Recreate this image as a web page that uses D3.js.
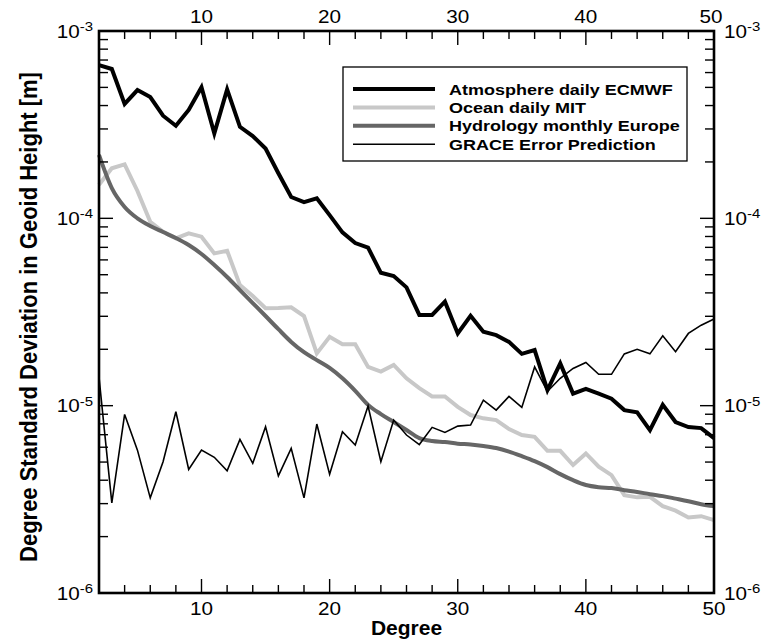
<!DOCTYPE html>
<meta charset="utf-8">
<html lang="en">
<head>
<script src="https://d3js.org/d3.v7.min.js"></script>
<style>
  body { margin: 0; background: #fff; }
  text { font-family: "Liberation Sans", Arial, Helvetica, sans-serif; fill: #000; }
</style>
</head>
<body>
<svg></svg>
<script>
// degree axis (spherical harmonic degree)
var degrees = [2,3,4,5,6,7,8,9,10,11,12,13,14,15,16,17,18,19,20,21,22,23,24,25,26,
  27,28,29,30,31,32,33,34,35,36,37,38,39,40,41,42,43,44,45,46,47,48,49,50];

// degree std dev in geoid height [m]
var atmosphere = [6.58e-4,6.27e-4,4.08e-4,4.84e-4,4.44e-4,3.53e-4,3.12e-4,3.79e-4,5.01e-4,2.84e-4,
  4.88e-4,3.08e-4,2.75e-4,2.36e-4,1.74e-4,1.30e-4,1.22e-4,1.28e-4,1.04e-4,8.42e-5,
  7.38e-5,6.97e-5,5.12e-5,4.92e-5,4.28e-5,3.05e-5,3.05e-5,3.59e-5,2.43e-5,3.02e-5,
  2.48e-5,2.38e-5,2.19e-5,1.89e-5,1.98e-5,1.21e-5,1.68e-5,1.16e-5,1.23e-5,1.16e-5,
  1.09e-5,9.47e-6,9.21e-6,7.41e-6,1.01e-5,8.18e-6,7.69e-6,7.59e-6,6.71e-6];
var ocean = [1.51e-4,1.85e-4,1.94e-4,1.40e-4,9.59e-5,8.48e-5,7.82e-5,8.32e-5,7.98e-5,6.50e-5,
  6.71e-5,4.40e-5,3.85e-5,3.31e-5,3.32e-5,3.35e-5,3.01e-5,1.90e-5,2.33e-5,2.13e-5,
  2.13e-5,1.61e-5,1.52e-5,1.65e-5,1.40e-5,1.24e-5,1.12e-5,1.12e-5,9.86e-6,8.91e-6,
  8.56e-6,8.38e-6,7.50e-6,6.97e-6,6.82e-6,5.74e-6,5.74e-6,4.82e-6,5.56e-6,4.72e-6,
  4.26e-6,3.33e-6,3.24e-6,3.26e-6,2.91e-6,2.75e-6,2.53e-6,2.57e-6,2.45e-6];
var hydrology = [2.18e-4,1.45e-4,1.15e-4,1.00e-4,9.10e-5,8.45e-5,7.85e-5,7.20e-5,6.45e-5,5.63e-5,
  4.86e-5,4.14e-5,3.53e-5,3.01e-5,2.56e-5,2.19e-5,1.93e-5,1.75e-5,1.59e-5,1.40e-5,
  1.20e-5,1.01e-5,9.02e-6,8.18e-6,7.41e-6,6.71e-6,6.47e-6,6.39e-6,6.27e-6,6.20e-6,
  6.09e-6,5.94e-6,5.69e-6,5.38e-6,5.06e-6,4.70e-6,4.31e-6,4.00e-6,3.77e-6,3.67e-6,
  3.63e-6,3.54e-6,3.46e-6,3.37e-6,3.29e-6,3.19e-6,3.09e-6,2.98e-6,2.91e-6];
var grace = [1.42e-5,3.03e-6,8.98e-6,5.79e-6,3.22e-6,5.02e-6,9.28e-6,4.57e-6,5.79e-6,5.30e-6,
  4.49e-6,6.61e-6,4.92e-6,7.72e-6,4.22e-6,5.92e-6,3.22e-6,7.98e-6,4.30e-6,7.26e-6,
  6.16e-6,9.95e-6,5.02e-6,8.38e-6,6.97e-6,6.20e-6,7.66e-6,7.20e-6,7.78e-6,7.88e-6,
  1.07e-5,9.47e-6,1.12e-5,9.79e-6,1.61e-5,1.19e-5,1.40e-5,1.58e-5,1.70e-5,1.47e-5,
  1.47e-5,1.89e-5,2.00e-5,1.89e-5,2.36e-5,1.94e-5,2.43e-5,2.69e-5,2.90e-5];

var seriesNames = ["Atmosphere daily ECMWF", "Ocean daily MIT", "Hydrology monthly Europe", "GRACE Error Prediction"];

// ticks
var xMajor = [10, 20, 30, 40, 50];
var xMinor = [4, 6, 8, 12, 14, 16, 18, 22, 24, 26, 28, 32, 34, 36, 38, 42, 44, 46, 48];
var yMajorExp = [-6, -5, -4, -3];
var yMinor = [2e-6,3e-6,4e-6,5e-6,6e-6,7e-6,8e-6,9e-6,
  2e-5,3e-5,4e-5,5e-5,6e-5,7e-5,8e-5,9e-5,
  2e-4,3e-4,4e-4,5e-4,6e-4,7e-4,8e-4,9e-4];

let width = 762, height = 642;
let margin = {left: 99, top: 31, right: 48, bottom: 49};
let sx = 1.15; // the figure's labels are stretched sideways

let svg = d3.select("svg").attr("width", width).attr("height", height);

var x = d3.scaleLinear().domain([2, 50]).range([margin.left, width - margin.right]);
var y = d3.scaleLog().domain([1e-6, 1e-3]).range([height - margin.bottom, margin.top]);

var styles = [
  {data: atmosphere, color: "#000", w: 4, curve: d3.curveLinear},
  {data: ocean, color: "#c8c8c8", w: 4, curve: d3.curveLinear},
  {data: hydrology, color: "#666", w: 4, curve: d3.curveMonotoneX},
  {data: grace, color: "#000", w: 1.6, curve: d3.curveLinear}
];

// draw in back-to-front order
[1, 2, 0, 3].forEach(function(i) {
  var s = styles[i];
  var line = d3.line().x((d, j) => x(degrees[j])).y(d => y(d)).curve(s.curve);
  svg.append("path")
    .attr("d", line(s.data))
    .attr("fill", "none")
    .attr("stroke", s.color)
    .attr("stroke-width", s.w)
    .attr("stroke-linejoin", "miter");
});

// axes, ticks pointing inward
var yTicks = yMajorExp.map(e => Math.pow(10, e));

var gx = svg.append("g").attr("class", "ticks").attr("stroke", "#000").attr("stroke-width", 1.4);
xMajor.concat(xMinor).forEach(function(d) {
  var len = xMajor.indexOf(d) >= 0 ? 14 : 8;
  gx.append("line").attr("x1", x(d)).attr("x2", x(d))
    .attr("y1", y.range()[0]).attr("y2", y.range()[0] - len);
  gx.append("line").attr("x1", x(d)).attr("x2", x(d))
    .attr("y1", y.range()[1]).attr("y2", y.range()[1] + len);
});
yTicks.concat(yMinor).forEach(function(d) {
  var len = yTicks.indexOf(d) >= 0 ? 14 : 9;
  gx.append("line").attr("y1", y(d)).attr("y2", y(d))
    .attr("x1", x.range()[0]).attr("x2", x.range()[0] + len);
  gx.append("line").attr("y1", y(d)).attr("y2", y(d))
    .attr("x1", x.range()[1]).attr("x2", x.range()[1] - len);
});

svg.append("rect")
  .attr("x", x.range()[0]).attr("y", y.range()[1])
  .attr("width", x.range()[1] - x.range()[0])
  .attr("height", y.range()[0] - y.range()[1])
  .attr("fill", "none").attr("stroke", "#000").attr("stroke-width", 2.6);

// tick labels
function stretched(px, py, anchor) {
  return svg.append("g").attr("transform", "translate(" + px + "," + py + ") scale(" + sx + ",1)")
    .append("text").attr("text-anchor", anchor);
}
xMajor.forEach(function(d) {
  stretched(x(d), 615, "middle").attr("font-size", 18).text(d);
  stretched(x(d) - (d == 50 ? 3 : 0), 23, "middle").attr("font-size", 18).text(d);
});
yMajorExp.forEach(function(e) {
  var py = y(Math.pow(10, e)) + 6.5;
  var t = stretched(93, py, "end").attr("font-size", 18);
  t.append("tspan").text("10");
  t.append("tspan").attr("font-size", 13).attr("dy", -6.5).text(e);
  var r = stretched(724, py, "start").attr("font-size", 18);
  r.append("tspan").text("10");
  r.append("tspan").attr("font-size", 13).attr("dy", -6.5).text(e);
});

// axis titles
svg.append("text")
  .attr("x", x(26)).attr("y", 635)
  .attr("text-anchor", "middle")
  .attr("font-size", 21).attr("font-weight", "bold")
  .text("Degree");
svg.append("text")
  .attr("transform", "translate(37," + 317 + ") rotate(-90) scale(1,1.12)")
  .attr("text-anchor", "middle")
  .attr("font-size", 22).attr("font-weight", "bold")
  .text("Degree Standard Deviation in Geoid Height [m]");

// legend
var lg = svg.append("g").attr("class", "legend");
lg.append("rect")
  .attr("x", 343).attr("y", 67).attr("width", 344).attr("height", 94)
  .attr("fill", "#fff").attr("stroke", "#000").attr("stroke-width", 1.3);
seriesNames.forEach(function(name, i) {
  var ly = 89 + i * 18.4;
  lg.append("line").attr("x1", 353).attr("x2", 435).attr("y1", ly).attr("y2", ly)
    .attr("stroke", styles[i].color).attr("stroke-width", styles[i].w);
  lg.append("g").attr("transform", "translate(449," + (ly + 5.5) + ") scale(1.2,1)")
    .append("text").attr("font-size", 15).attr("font-weight", "bold").text(name);
});
</script>
</body>
</html>
